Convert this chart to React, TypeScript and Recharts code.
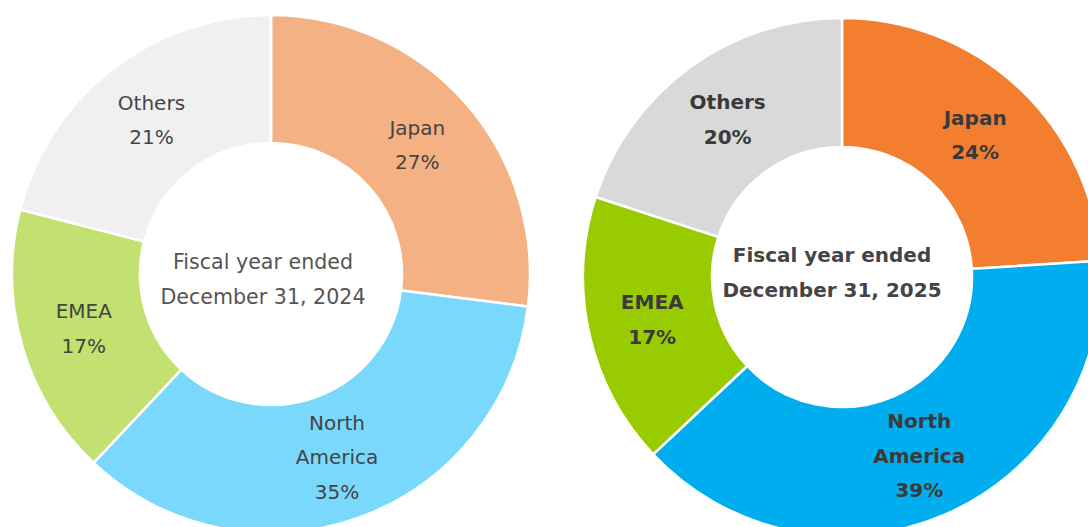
import { PieChart, Pie, Cell, Label } from 'recharts';

const REGIONS = ['Japan', 'North America', 'EMEA', 'Others'];
const SHARE_2024 = [27, 35, 17, 21];
const SHARE_2025 = [24, 39, 17, 20];
const CAPTION_2024 = ['Fiscal year ended', 'December 31, 2024'];
const CAPTION_2025 = ['Fiscal year ended', 'December 31, 2025'];

const COLORS_2024 = ['#F4B183', '#79D8FC', '#C2E170', '#F0F0F0'];
const COLORS_2025 = ['#F47E30', '#00AEEF', '#99CC00', '#D9D9D9'];

const FONT = '"DejaVu Sans", Verdana, sans-serif';
const RADIAN = Math.PI / 180;

// pie centres, plus a small shift for the caption in the hole
const LEFT = { cx: 271, cy: 274, dx: -8, dy: 5 };
const RIGHT = { cx: 842, cy: 277, dx: -10, dy: -5 };

const data2024 = REGIONS.map((name, i) => ({ name, value: SHARE_2024[i] }));
const data2025 = REGIONS.map((name, i) => ({ name, value: SHARE_2025[i] }));

const makeLabel = (bold: boolean, color: string) => (props: any) => {
  const { cx, cy, midAngle, innerRadius, outerRadius, name, value } = props;
  const r = (innerRadius + outerRadius) / 2;
  const x = cx + r * Math.cos(-midAngle * RADIAN);
  const y = cy + r * Math.sin(-midAngle * RADIAN);
  const lines = [...String(name).split(' '), `${value}%`];
  const lh = 34.5;
  const top = y - ((lines.length - 1) * lh) / 2;
  return (
    <text
      x={x}
      y={top}
      textAnchor="middle"
      dominantBaseline="central"
      fill={color}
      fontFamily={FONT}
      fontSize={20}
      fontWeight={bold ? 'bold' : 'normal'}
    >
      {lines.map((l, i) => (
        <tspan key={i} x={x} y={top + i * lh}>
          {l}
        </tspan>
      ))}
    </text>
  );
};

const makeCenter =
  (lines: string[], c: { cx: number; cy: number; dx: number; dy: number }, bold: boolean, color: string) => () => {
    const lh = 35;
    const top = c.cy + c.dy - ((lines.length - 1) * lh) / 2;
    const x = c.cx + c.dx;
    return (
      <text
        x={x}
        y={top}
        textAnchor="middle"
        dominantBaseline="central"
        fill={color}
        fontFamily={FONT}
        fontSize={bold ? 20 : 20.6}
        fontWeight={bold ? 'bold' : 'normal'}
      >
        {lines.map((l, i) => (
          <tspan key={i} x={x} y={top + i * lh}>
            {l}
          </tspan>
        ))}
      </text>
    );
  };

export default function App() {
  return (
    <div style={{ position: 'absolute', left: 0, top: 0, width: 1088, height: 527, overflow: 'hidden', background: '#fff' }}>
      <PieChart width={1088} height={527} margin={{ top: 0, right: 0, bottom: 0, left: 0 }}>
        <Pie
          data={data2024}
          dataKey="value"
          nameKey="name"
          cx={LEFT.cx}
          cy={LEFT.cy}
          innerRadius={131}
          outerRadius={259}
          startAngle={90}
          endAngle={-270}
          stroke="#fff"
          strokeWidth={2.5}
          label={makeLabel(false, '#444')}
          labelLine={false}
          isAnimationActive={false}
        >
          {data2024.map((_, i) => (
            <Cell key={`a-${i}`} fill={COLORS_2024[i]} />
          ))}
          <Label position="center" content={makeCenter(CAPTION_2024, LEFT, false, '#555')} />
        </Pie>
        <Pie
          data={data2025}
          dataKey="value"
          nameKey="name"
          cx={RIGHT.cx}
          cy={RIGHT.cy}
          innerRadius={130}
          outerRadius={259}
          startAngle={90}
          endAngle={-270}
          stroke="#fff"
          strokeWidth={2.5}
          label={makeLabel(true, '#3a3a3a')}
          labelLine={false}
          isAnimationActive={false}
        >
          {data2025.map((_, i) => (
            <Cell key={`b-${i}`} fill={COLORS_2025[i]} />
          ))}
          <Label position="center" content={makeCenter(CAPTION_2025, RIGHT, true, '#444')} />
        </Pie>
      </PieChart>
    </div>
  );
}
